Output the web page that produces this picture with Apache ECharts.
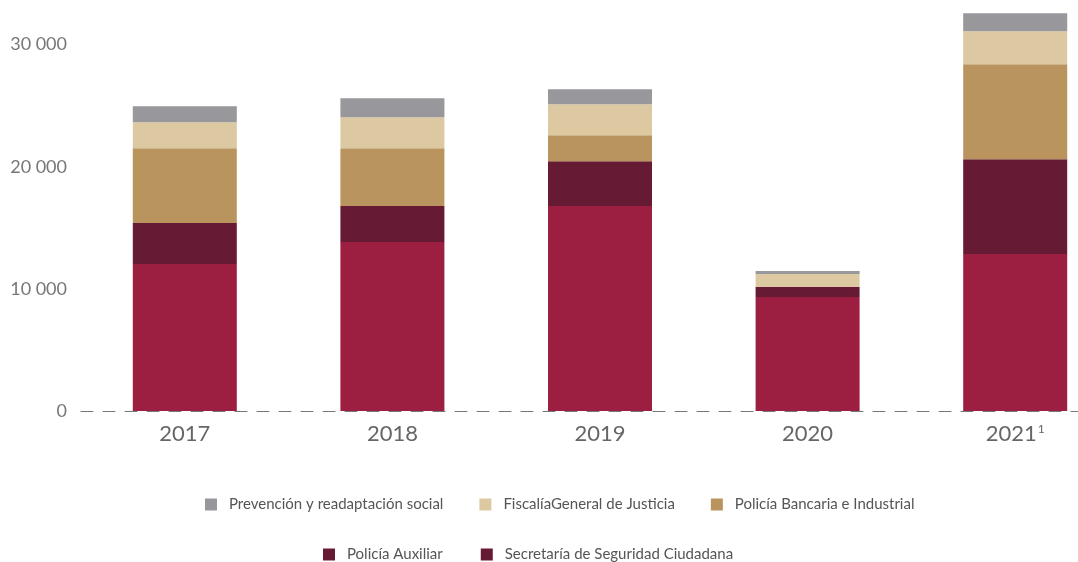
<!DOCTYPE html>
<html>
<head>
<meta charset="utf-8">
<script src="https://cdn.jsdelivr.net/npm/echarts@6/dist/echarts.min.js"></script>
<style>
  html, body { margin: 0; padding: 0; background: #fff; }
  #chart { width: 1078px; height: 562px; }
</style>
</head>
<body>
<div id="chart"></div>
<script>
  // datos
  var years = ['2017', '2018', '2019', '2020', '2021'];
  var secretaria = [12030, 13830, 16780, 9330, 12850];
  var auxiliar = [3360, 2950, 3680, 820, 7770];
  var bancaria = [6130, 4740, 2130, 0, 7780];
  var fiscalia = [2130, 2540, 2530, 1060, 2700];
  var prevencion = [1310, 1550, 1230, 250, 1470];
  var yTicks = [0, 10000, 20000, 30000];

  var dom = document.getElementById('chart');
  var chart = echarts.init(dom);

  function fmt(v) {
    return String(v).replace(/\B(?=(\d{3})+(?!\d))/g, ' ');
  }

  var font = 'Lato';
  var barW = 104;

  function bar(name, data, color) {
    return {
      name: name,
      type: 'bar',
      stack: 'total',
      barWidth: barW,
      data: data,
      itemStyle: { color: color },
      emphasis: { disabled: true }
    };
  }

  var legendText = { color: '#555', fontSize: 15, fontFamily: font, padding: [0, 0, 0, 7] };

  var option = {
    animation: false,
    grid: { left: 81, top: 8, right: -41, bottom: 151, containLabel: false, outerBoundsMode: 'none' },
    legend: [{
      top: 492,
      left: 200,
      itemWidth: 12,
      itemHeight: 12,
      itemGap: 36,
      icon: 'rect',
      textStyle: legendText,
      data: ['Prevención y readaptación social', 'FiscalíaGeneral de Justicia', 'Policía Bancaria e Industrial']
    }, {
      top: 542,
      left: 318,
      itemWidth: 12,
      itemHeight: 12,
      itemGap: 38,
      icon: 'rect',
      textStyle: legendText,
      data: ['Policía Auxiliar', { name: 'Secretaría de Seguridad Ciudadana', itemStyle: { color: '#661a33' } }]
    }],
    xAxis: {
      type: 'category',
      data: years,
      axisTick: { show: false },
      axisLine: { lineStyle: { color: '#777', type: [12, 10], width: 1 } },
      axisLabel: {
        margin: 12,
        color: '#666',
        fontSize: 22,
        fontFamily: font,
        formatter: function (v) {
          return v === '2021' ? '{a|2021}{s|1}' : '{a|' + v + '}';
        },
        rich: {
          a: { fontSize: 22, color: '#666', fontFamily: font },
          s: { fontSize: 12, color: '#666', fontFamily: font, verticalAlign: 'top', padding: [0, 0, 10, 1] }
        }
      }
    },
    yAxis: {
      type: 'value',
      min: 0,
      max: 33000,
      interval: 10000,
      splitLine: { show: false },
      axisLine: { show: false },
      axisTick: { show: false },
      axisLabel: {
        margin: 14,
        color: '#777',
        fontSize: 18,
        fontFamily: font,
        formatter: function (v) {
          return yTicks.indexOf(v) >= 0 ? fmt(v) : '';
        }
      }
    },
    series: [
      bar('Secretaría de Seguridad Ciudadana', secretaria, '#9c1f42'),
      bar('Policía Auxiliar', auxiliar, '#661a33'),
      bar('Policía Bancaria e Industrial', bancaria, '#b9945e'),
      bar('FiscalíaGeneral de Justicia', fiscalia, '#dcc8a1'),
      bar('Prevención y readaptación social', prevencion, '#97979c')
    ]
  };

  chart.setOption(option);
  window.addEventListener('resize', chart.resize);
</script>
</body>
</html>
